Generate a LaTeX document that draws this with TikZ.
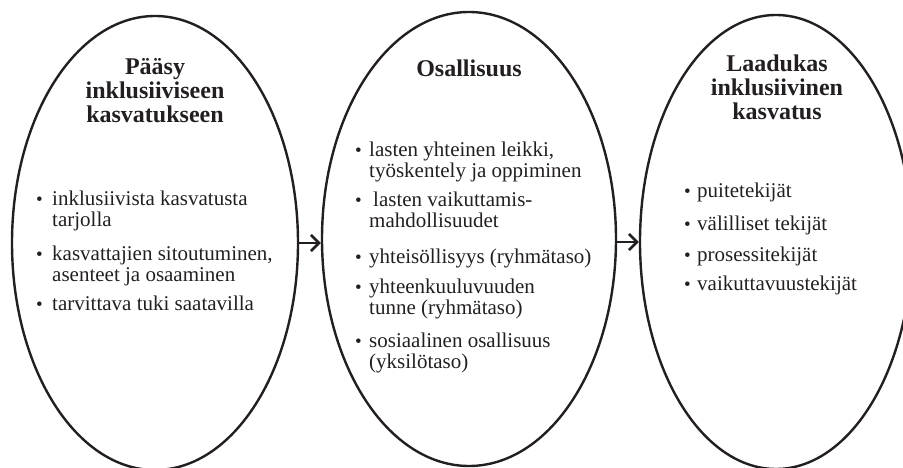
\documentclass[tikz,border=0pt]{standalone}
\usepackage{fontspec}
\setmainfont{Liberation Serif}
\usetikzlibrary{shapes.geometric,arrows.meta}
\definecolor{ink}{HTML}{231F20}
\newcommand\itemlines[1]{\vtop{\baselineskip=21pt\halign{##\hfil\cr#1\crcr}}}
\newcommand\titlelines[1]{\vtop{\baselineskip=24pt\halign{\hfil##\hfil\cr#1\crcr}}}
\tikzset{
  oval/.style={ellipse, draw=ink, line width=2.4pt, inner sep=0pt, minimum height=454pt},
  title/.style={anchor=base, inner sep=0pt, text=ink, font=\fontsize{24}{24}\selectfont\bfseries},
  body/.style={anchor=base west, inner sep=0pt, text=ink, font=\fontsize{21}{21}\selectfont},
  bul/.style={anchor=base west, inner sep=0pt, text=ink, font=\fontsize{19}{19}\selectfont},
  arr/.style={draw=ink, line width=2.6pt, -{Straight Barb[length=8pt,width=16pt]}}
}
\begin{document}
\begin{tikzpicture}[x=1pt,y=-1pt]
\useasboundingbox (0,0) rectangle (903,468);
% ellipses
\node[oval, minimum width=286pt] (e1) at (155,243) {};
\node[oval, minimum width=294pt] (e2) at (469,239) {};
\node[oval, minimum width=272pt] (e3) at (776,242) {};
% titles
\node[title] (t1) at (155,75) {\titlelines{Pääsy\cr inklusiiviseen\cr kasvatukseen}};
\node[title] (t2) at (469,77) {\titlelines{Osallisuus}};
\node[title] (t3) at (777,72) {\titlelines{Laadukas\cr inklusiivinen\cr kasvatus}};
% left list
\node[bul] (b11) at (36,205) {\textbullet};
\node[body] (i11) at (52,205) {\itemlines{inklusiivista kasvatusta\cr tarjolla}};
\node[bul] (b12) at (36,260) {\textbullet};
\node[body] (i12) at (52,260) {\itemlines{kasvattajien sitoutuminen,\cr asenteet ja osaaminen}};
\node[bul] (b13) at (36,310) {\textbullet};
\node[body] (i13) at (52,310) {\itemlines{tarvittava tuki saatavilla}};
% middle list
\node[bul] (b21) at (355,157) {\textbullet};
\node[body] (i21) at (369,157) {\itemlines{lasten yhteinen leikki,\cr työskentely ja oppiminen}};
\node[bul] (b22) at (355,207) {\textbullet};
\node[body] (i22) at (369,207) {\itemlines{\hspace{4pt}lasten vaikuttamis-\cr mahdollisuudet}};
\node[bul] (b23) at (355,263) {\textbullet};
\node[body] (i23) at (369,263) {\itemlines{yhteisöllisyys (ryhmätaso)}};
\node[bul] (b24) at (355,293) {\textbullet};
\node[body] (i24) at (369,293) {\itemlines{yhteenkuuluvuuden\cr tunne (ryhmätaso)}};
\node[bul] (b25) at (355,347) {\textbullet};
\node[body] (i25) at (369,347) {\itemlines{sosiaalinen osallisuus\cr (yksilötaso)}};
% right list
\node[bul] (b31) at (684,198) {\textbullet};
\node[body] (i31) at (697,198) {\itemlines{puitetekijät}};
\node[bul] (b32) at (684,230) {\textbullet};
\node[body] (i32) at (697,230) {\itemlines{välilliset tekijät}};
\node[bul] (b33) at (684,261) {\textbullet};
\node[body] (i33) at (697,261) {\itemlines{prosessitekijät}};
\node[bul] (b34) at (684,290) {\textbullet};
\node[body] (i34) at (697,290) {\itemlines{vaikuttavuustekijät}};
% arrows
\draw[arr] (e1.east) -- (e1.east -| e2.west);
\draw[arr] (e3.west -| e2.east) -- (e3.west);
\end{tikzpicture}
\end{document}
